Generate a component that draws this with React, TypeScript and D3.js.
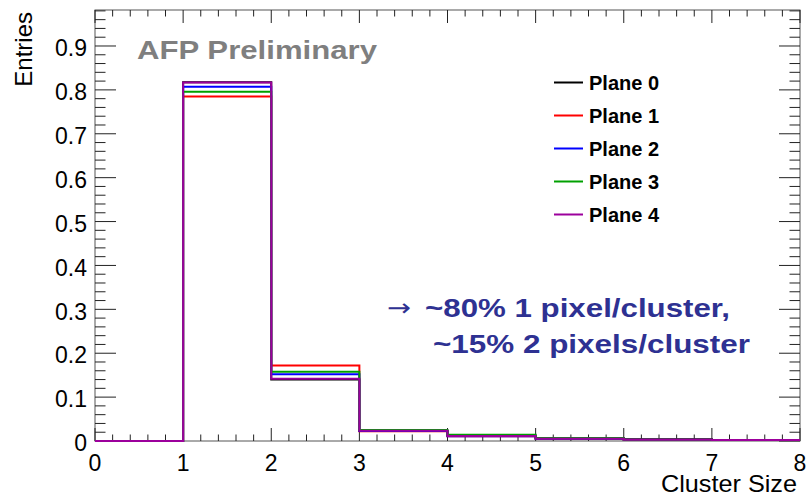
import React, { useEffect, useRef } from "react";
import * as d3 from "d3";

// bin lower edges for cluster size 0..7 (each bin is 1 wide)
const binEdges = [0, 1, 2, 3, 4, 5, 6, 7, 8];

const planeNames = ["Plane 0", "Plane 1", "Plane 2", "Plane 3", "Plane 4"];
const planeColors = ["#000000", "#ff0000", "#0000ff", "#00a000", "#9c009c"];

const plane0 = [0, 0.8175, 0.14, 0.023, 0.012, 0.006, 0.004, 0.002];
const plane1 = [0, 0.785, 0.172, 0.022, 0.011, 0.005, 0.003, 0.002];
const plane2 = [0, 0.807, 0.152, 0.023, 0.011, 0.005, 0.003, 0.002];
const plane3 = [0, 0.796, 0.158, 0.025, 0.014, 0.006, 0.003, 0.002];
const plane4 = [0, 0.817, 0.142, 0.0235, 0.0115, 0.005, 0.003, 0.002];

const xTickLabels = ["0", "1", "2", "3", "4", "5", "6", "7", "8"];
const yTickLabels = ["0", "0.1", "0.2", "0.3", "0.4", "0.5", "0.6", "0.7", "0.8", "0.9"];

const FONT = "'Liberation Sans', Arial, Helvetica, sans-serif";

const App = () => {
  const svgRef = useRef<SVGSVGElement>(null);

  useEffect(() => {
    const width = 806;
    const height = 497;
    const left = 95;
    const right = 800;
    const top = 10;
    const bottom = 441;

    const x = d3.scaleLinear().domain([0, 8]).range([left, right]);
    const y = d3.scaleLinear().domain([0, 0.982]).range([bottom, top]);

    const svg = d3.select(svgRef.current);
    svg.selectAll("*").remove();
    svg
      .attr("width", width)
      .attr("height", height)
      .attr("viewBox", [0, 0, width, height])
      .style("background", "white")
      .style("font-family", FONT);

    // frame
    svg
      .append("rect")
      .attr("x", left)
      .attr("y", top)
      .attr("width", right - left)
      .attr("height", bottom - top)
      .attr("fill", "none")
      .attr("stroke", "#555")
      .attr("stroke-width", 1);

    const ticks = svg.append("g").attr("stroke", "#222").attr("stroke-width", 1);

    // x ticks, bottom and top, 5 subdivisions
    const xMajor = 13;
    for (let i = 0; i <= 40; i++) {
      const v = i * 0.2;
      const len = i % 5 === 0 ? xMajor : xMajor / 2;
      const px = x(v);
      ticks.append("line").attr("x1", px).attr("x2", px).attr("y1", bottom).attr("y2", bottom - len);
      ticks.append("line").attr("x1", px).attr("x2", px).attr("y1", top).attr("y2", top + len);
    }

    // y ticks, left and right
    const yMajor = 21;
    for (let i = 0; i <= 49; i++) {
      const v = i * 0.02;
      if (v > 0.982) break;
      const len = i % 5 === 0 ? yMajor : yMajor / 2;
      const py = y(v);
      ticks.append("line").attr("x1", left).attr("x2", left + len).attr("y1", py).attr("y2", py);
      ticks.append("line").attr("x1", right).attr("x2", right - len).attr("y1", py).attr("y2", py);
    }

    // tick labels
    svg
      .append("g")
      .selectAll("text")
      .data(xTickLabels)
      .join("text")
      .attr("x", (d, i) => x(i))
      .attr("y", 471)
      .attr("text-anchor", "middle")
      .style("font-size", "23px")
      .text((d) => d);

    svg
      .append("g")
      .selectAll("text")
      .data(yTickLabels)
      .join("text")
      .attr("x", 87)
      .attr("y", (d, i) => y(i * 0.1) + 2)
      .attr("dy", "0.36em")
      .attr("text-anchor", "end")
      .style("font-size", "23px")
      .text((d) => d);

    // axis titles
    svg
      .append("text")
      .attr("transform", "translate(32,12) rotate(-90)")
      .attr("text-anchor", "end")
      .style("font-size", "24px")
      .text("Entries");

    svg
      .append("text")
      .attr("x", 797)
      .attr("y", 492)
      .attr("text-anchor", "end")
      .attr("textLength", 136)
      .attr("lengthAdjust", "spacingAndGlyphs")
      .style("font-size", "24px")
      .text("Cluster Size");

    // histograms
    const planes = [plane0, plane1, plane2, plane3, plane4];
    const step = (vals: number[]) => {
      const pts: [number, number][] = [];
      vals.forEach((v, i) => {
        pts.push([x(binEdges[i]), y(v)]);
        pts.push([x(binEdges[i + 1]), y(v)]);
      });
      return d3.line()(pts);
    };
    planes.forEach((vals, k) => {
      svg
        .append("path")
        .attr("d", step(vals))
        .attr("fill", "none")
        .attr("stroke", planeColors[k])
        .attr("stroke-width", 2);
    });

    // legend
    const legend = svg.append("g");
    planeNames.forEach((name, k) => {
      const ly = 82.5 + k * 33;
      legend
        .append("line")
        .attr("x1", 554)
        .attr("x2", 583)
        .attr("y1", ly)
        .attr("y2", ly)
        .attr("stroke", planeColors[k])
        .attr("stroke-width", 2);
      legend
        .append("text")
        .attr("x", 589)
        .attr("y", ly + 7.3)
        .style("font-size", "20px")
        .style("font-weight", "bold")
        .text(name);
    });

    // labels
    svg
      .append("text")
      .attr("x", 137)
      .attr("y", 58.5)
      .attr("fill", "#7f7f7f")
      .attr("textLength", 240)
      .attr("lengthAdjust", "spacingAndGlyphs")
      .style("font-size", "26px")
      .style("font-weight", "bold")
      .text("AFP Preliminary");

    const blue = "#2e3192";
    svg
      .append("text")
      .attr("x", 387)
      .attr("y", 316)
      .attr("fill", blue)
      .attr("textLength", 24)
      .attr("lengthAdjust", "spacingAndGlyphs")
      .style("font-family", "'DejaVu Sans', sans-serif")
      .style("font-size", "24px")
      .text("→");
    svg
      .append("text")
      .attr("x", 425)
      .attr("y", 316.5)
      .attr("fill", blue)
      .attr("textLength", 305)
      .attr("lengthAdjust", "spacingAndGlyphs")
      .style("font-size", "26px")
      .style("font-weight", "bold")
      .text("~80% 1 pixel/cluster,");
    svg
      .append("text")
      .attr("x", 433)
      .attr("y", 353)
      .attr("fill", blue)
      .attr("textLength", 317)
      .attr("lengthAdjust", "spacingAndGlyphs")
      .style("font-size", "26px")
      .style("font-weight", "bold")
      .text("~15% 2 pixels/cluster");
  }, []);

  return (
    <div style={{ position: "absolute", left: 0, top: 0 }}>
      <svg ref={svgRef} style={{ display: "block" }} />
    </div>
  );
};

export default App;
